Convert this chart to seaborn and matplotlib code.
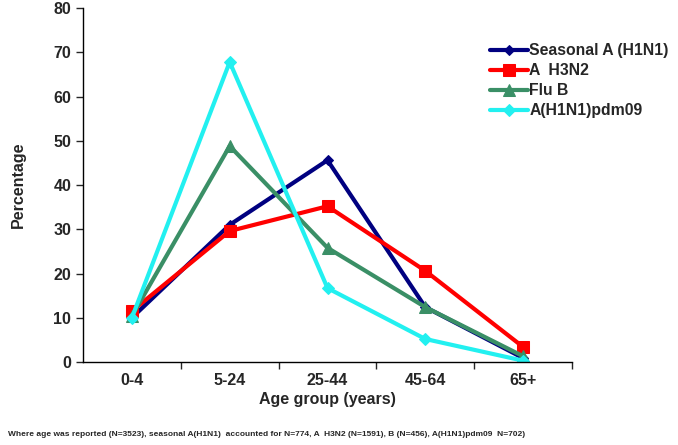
import pandas as pd
import matplotlib
matplotlib.use("Agg")
import matplotlib.pyplot as plt
import seaborn as sns

# data
age_groups = ["0-4", "5-24", "25-44", "45-64", "65+"]
seasonal_h1n1 = [10.0, 31.0, 45.6, 12.4, 0.9]
a_h3n2 = [11.5, 29.6, 35.2, 20.6, 3.4]
flu_b = [10.4, 48.8, 25.8, 12.4, 1.3]
pdm09 = [10.0, 67.8, 16.7, 5.2, 0.3]

series_names = ["Seasonal A (H1N1)", "A  H3N2", "Flu B", "A(H1N1)pdm09"]
series_values = [seasonal_h1n1, a_h3n2, flu_b, pdm09]

rows = []
for name, vals in zip(series_names, series_values):
    for i, v in enumerate(vals):
        rows.append({"pos": i, "Age group": age_groups[i], "Percentage": v, "Virus": name})
df = pd.DataFrame(rows)

sns.set_style("white")
plt.rcParams["font.family"] = ["Liberation Sans", "DejaVu Sans"]

fig = plt.figure(figsize=(6.78, 4.45), dpi=100)
ax = fig.add_axes([0.1224, 0.1865, 0.7213, 0.7955])

palette = ["#000080", "#FF0000", "#3A8F66", "#22F0F0"]
markers = ["D", "s", "^", "D"]
sizes = [5, 8, 8, 6]

for name, col, mk, ms in zip(series_names, palette, markers, sizes):
    sub = df[df["Virus"] == name]
    sns.lineplot(x="pos", y="Percentage", data=sub, ax=ax, color=col, marker=mk,
                 markersize=ms, markeredgecolor=col, linewidth=3, label=name)

ax.set_xlim(-0.5, 4.5)
ax.set_ylim(0, 80)
ax.set_yticks(range(0, 81, 10))
ax.set_xticks(range(5))
ax.set_xticklabels(age_groups, fontweight="bold", fontsize=11.5)
ax.set_xticks([0.5, 1.5, 2.5, 3.5, 4.5], minor=True)
ax.tick_params(axis="x", which="major", length=0, pad=8)
ax.tick_params(axis="x", which="minor", length=5, width=1, direction="out", bottom=True)
ax.tick_params(axis="y", length=5, width=1, direction="out", left=True, labelsize=11.5)
for lab in ax.get_yticklabels():
    lab.set_fontweight("bold")

for s in ["top", "right"]:
    ax.spines[s].set_visible(False)
for s in ["left", "bottom"]:
    ax.spines[s].set_color("black")
    ax.spines[s].set_linewidth(1)

ax.set_xlabel("Age group (years)", fontweight="bold", fontsize=11.5, labelpad=3)
ax.set_ylabel("Percentage", fontweight="bold", fontsize=11.5, labelpad=20)

handles, labels = ax.get_legend_handles_labels()
ax.get_legend().remove()
fig.legend(handles, labels, loc="upper left", bbox_to_anchor=(0.702, 0.935),
           frameon=False, prop={"weight": "bold", "size": 11.3},
           handlelength=2.4, handletextpad=0.1, labelspacing=0.32)

fig.text(0.012, 0.02,
         "Where age was reported (N=3523), seasonal A(H1N1)  accounted for N=774, A  H3N2 (N=1591), B (N=456), A(H1N1)pdm09  N=702)",
         fontsize=6, fontweight="bold")

fig.savefig("out.png", dpi=100, facecolor="white")
